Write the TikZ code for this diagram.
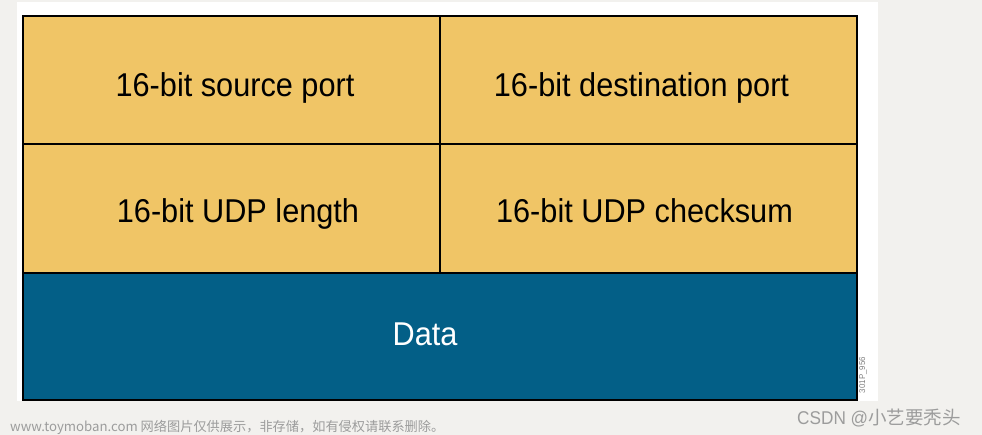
\documentclass[tikz,border=0pt]{standalone}
\usepackage{fontspec}
\setmainfont{Liberation Sans}[FakeStretch=0.93]
\newfontfamily\cjkfont{Noto Sans CJK SC}
\definecolor{bgcol}{HTML}{F2F1EE}
\definecolor{goldcol}{HTML}{F0C566}
\definecolor{bluecol}{HTML}{035F87}
\definecolor{markgray}{HTML}{9C9C9C}
\begin{document}
\begin{tikzpicture}[x=1pt,y=-1pt,
  cell/.style={fill=goldcol},
  datacell/.style={fill=bluecol},
  rule/.style={draw=black,line width=1.8pt},
  fieldtext/.style={anchor=base,inner sep=0pt,font=\fontsize{33}{36}\selectfont,text=black},
  datatext/.style={anchor=base,inner sep=0pt,font=\fontsize{33}{36}\selectfont,text=white},
  wmtext/.style={inner sep=0pt,text=markgray}]
\useasboundingbox (0,0) rectangle (982,435);
\fill[bgcol] (0,0) rectangle (982,435);
\fill[white] (17,2) rectangle (878,401);
% cells
\fill[cell] (23,16) rectangle (857,273);
\fill[datacell] (23,273) rectangle (857,400);
\coordinate (tl) at (23,16);
\coordinate (br) at (857,400);
\coordinate (vtop) at (440,16);
\coordinate (vbot) at (440,273);
\coordinate (h1l) at (23,144);
\coordinate (h1r) at (857,144);
\coordinate (h2l) at (23,273);
\coordinate (h2r) at (857,273);
\draw[rule] (tl) rectangle (br);
\draw[rule] (vtop) -- (vbot);
\draw[rule] (h1l) -- (h1r);
\draw[rule] (h2l) -- (h2r);
% texts
\node[fieldtext] (sp) at (235,97) {16-bit source port};
\node[fieldtext] (dp) at (641.5,97) {16-bit destination port};
\node[fieldtext] (ul) at (238,223) {16-bit UDP length};
\node[fieldtext] (uc) at (644.5,223) {16-bit UDP checksum};
\node[datatext] (dt) at (425,345) {Data};
% figure id
\node[wmtext,rotate=90,font=\fontsize{8.5}{9}\selectfont,text=gray] (fid) at (863,375) {301P\_956};
% watermarks
\node[wmtext,anchor=base west,font=\cjkfont\fontsize{13.2}{15}\selectfont] (wm1) at (10,431) {www.toymoban.com 网络图片仅供展示，非存储，如有侵权请联系删除。};
\node[wmtext,anchor=base west,font=\fontsize{18.5}{20}\selectfont] (wm2) at (797,424) {CSDN @{\cjkfont 小艺要秃头}};
\end{tikzpicture}
\end{document}
